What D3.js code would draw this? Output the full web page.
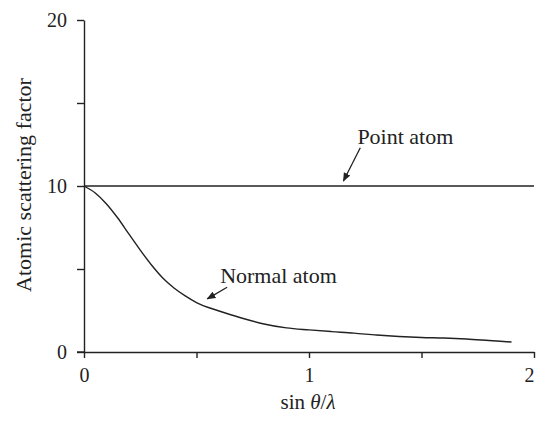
<!DOCTYPE html>
<html>
<head>
<meta charset="utf-8">
<script src="https://cdn.jsdelivr.net/npm/d3@7"></script>
<style>
  html, body { margin: 0; padding: 0; background: #fff; }
  svg { display: block; }
  text { font-family: "Liberation Serif", "DejaVu Serif", serif; fill: #222; }
</style>
</head>
<body>
<script>
// sin(theta)/lambda values and the atomic scattering factor of a real atom (Z = 10)
const sinThetaOverLambda = [0, 0.05, 0.1, 0.15, 0.2, 0.25, 0.3, 0.35, 0.4, 0.45, 0.5,
  0.6, 0.7, 0.8, 0.9, 1.0, 1.1, 1.2, 1.3, 1.4, 1.5, 1.6, 1.7, 1.8, 1.9];
const normalAtom = [10, 9.58, 8.92, 8.07, 7.1, 6.14, 5.24, 4.46, 3.86, 3.38, 2.98,
  2.47, 2.05, 1.69, 1.45, 1.33, 1.23, 1.14, 1.02, 0.93, 0.87, 0.84, 0.78, 0.69, 0.6];
// a point atom scatters equally at every angle
const pointAtomValue = 10;

const xTicks = [0, 0.5, 1, 1.5, 2];
const xTickLabels = ["0", "", "1", "", "2"];
const yTicks = [0, 5, 10, 15, 20];
const yTickLabels = ["0", "", "10", "", "20"];

const W = 536, H = 428;
const svg = d3.select("body").append("svg").attr("width", W).attr("height", H);

const x = d3.scaleLinear().domain([0, 2]).range([84, 534]);
const y = d3.scaleLinear().domain([0, 20]).range([352, 20]);
const ink = "#222";

// axes
const xAxis = d3.axisBottom(x).tickValues(xTicks)
  .tickFormat((d, i) => xTickLabels[i]).tickSize(6).tickSizeOuter(0).tickPadding(10);
const yAxis = d3.axisLeft(y).tickValues(yTicks)
  .tickFormat((d, i) => yTickLabels[i]).tickSize(7).tickSizeOuter(0).tickPadding(10);

const gx = svg.append("g").attr("transform", `translate(0,${y(0)})`).call(xAxis);
const gy = svg.append("g").attr("transform", `translate(${x(0)},0)`).call(yAxis);
[gx, gy].forEach(g => {
  g.select(".domain").attr("stroke", ink).attr("stroke-width", 1.4);
  g.selectAll(".tick line").attr("stroke", ink).attr("stroke-width", 1.4);
  g.selectAll(".tick text").style("font-family", "Liberation Serif, serif")
    .style("font-size", "20px").attr("fill", ink);
});
// the last x label sits at the right edge: keep it inside the frame
gx.selectAll(".tick text").filter(d => d === 2).attr("text-anchor", "end").attr("dx", 0);

// extend the x axis a little to the left, across the y axis
svg.append("line").attr("x1", x(0) - 7).attr("x2", x(0))
  .attr("y1", y(0)).attr("y2", y(0)).attr("stroke", ink).attr("stroke-width", 1.4);

// axis titles
svg.append("text")
  .attr("transform", `translate(31,${185}) rotate(-90)`)
  .attr("text-anchor", "middle").style("font-size", "22px")
  .text("Atomic scattering factor");

const xt = svg.append("text").attr("x", 308).attr("y", 409)
  .attr("text-anchor", "middle").style("font-size", "21px");
xt.append("tspan").text("sin ");
xt.append("tspan").style("font-style", "italic").text("θ");
xt.append("tspan").text("/");
xt.append("tspan").style("font-style", "italic").text("λ");

// point atom: constant scattering factor
svg.append("line")
  .attr("x1", x(0)).attr("x2", x(2))
  .attr("y1", y(pointAtomValue)).attr("y2", y(pointAtomValue))
  .attr("stroke", ink).attr("stroke-width", 1.4);

// normal atom curve
const line = d3.line()
  .x((d, i) => x(sinThetaOverLambda[i]))
  .y(d => y(d))
  .curve(d3.curveMonotoneX);
svg.append("path").datum(normalAtom)
  .attr("d", line).attr("fill", "none")
  .attr("stroke", ink).attr("stroke-width", 1.4);

// arrow marker for the labels
svg.append("defs").append("marker")
  .attr("id", "arrowhead").attr("viewBox", "0 0 10 10")
  .attr("refX", 9).attr("refY", 5)
  .attr("markerWidth", 9).attr("markerHeight", 9)
  .attr("markerUnits", "userSpaceOnUse").attr("orient", "auto")
  .append("path").attr("d", "M0,1 L10,5 L0,9 Z").attr("fill", ink);

function callout(label, tx, ty, fromX, fromY, toX, toY) {
  svg.append("text").attr("x", x(tx)).attr("y", y(ty))
    .style("font-size", "22px").text(label);
  svg.append("line")
    .attr("x1", x(fromX)).attr("y1", y(fromY))
    .attr("x2", x(toX)).attr("y2", y(toY))
    .attr("stroke", ink).attr("stroke-width", 1.3)
    .attr("marker-end", "url(#arrowhead)");
}
callout("Point atom", 1.215, 12.55, 1.228, 12.3, 1.153, 10.3);
callout("Normal atom", 0.605, 4.15, 0.636, 3.9, 0.548, 3.2);
</script>
</body>
</html>
